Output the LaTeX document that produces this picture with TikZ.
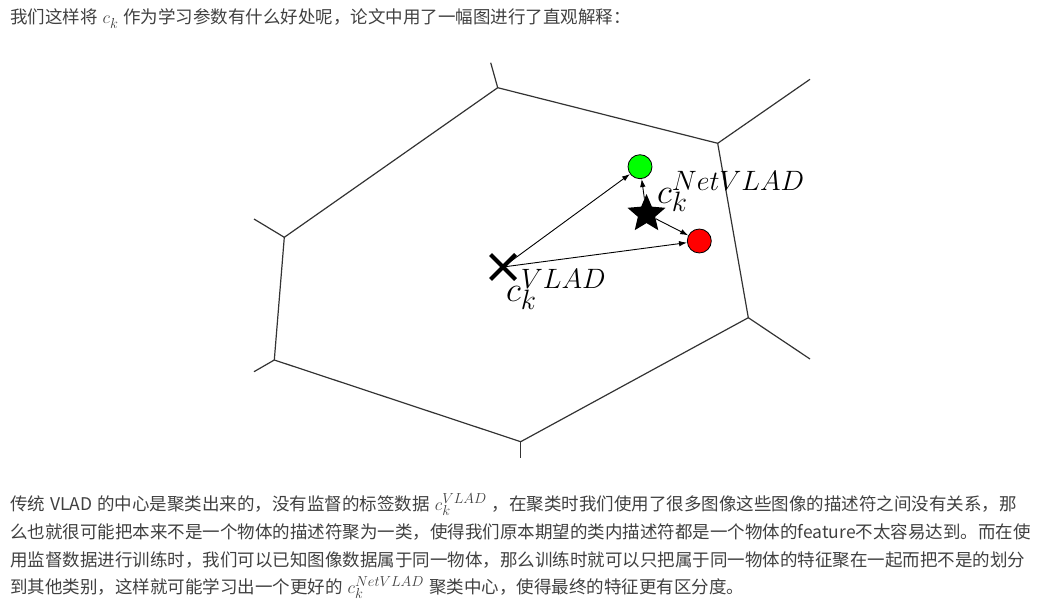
\RequirePackage{fix-cm}
\documentclass[tikz,border=0pt]{standalone}
\usepackage[no-math]{fontspec}
\newfontfamily\cjk{Noto Sans CJK SC}
\usetikzlibrary{arrows.meta,shapes.geometric,shapes.misc,positioning}
\XeTeXlinebreaklocale "zh"
\XeTeXlinebreakskip=0pt plus 1pt minus 0.5pt
\DeclareMathSizes{35}{35}{28}{20}
\DeclareMathSizes{17.5}{17.5}{14.5}{11}
\newcommand{\bodyfont}{\cjk\fontsize{17.5}{20}\selectfont\spaceskip=5pt\relax}
\tikzset{%
  cell/.style = {draw=black!80, line width=1.2pt},%
  vec/.style  = {draw=black, line width=0.9pt, -{Latex[length=8pt,width=5.5pt]}},%
  desc/.style = {circle, draw=black, line width=0.8pt,%
                 minimum size=24pt, inner sep=0pt},%
  lbl/.style  = {inner sep=0pt, anchor=base west,%
                 font=\fontsize{35}{40}\selectfont},%
  txt/.style  = {inner sep=0pt, anchor=base west, text=black!75, font=\bodyfont}%
}
\newcommand{\fullline}[1]{\makebox[1020pt][s]{#1}}

\begin{document}
\begin{tikzpicture}[x=1pt, y=-1pt]
	\useasboundingbox (0,0) rectangle (1041,607);
	% text above and below the figure
	\node[txt] (head) at (10,24) {我们这样将 $c_k$ 作为学习参数有什么好处呢，论文中用了一幅图进行了直观解释：};
	\node[txt] (line1) at (10,510) {\fullline{传统 VLAD 的中心是聚类出来的，没有监督的标签数据 $c_k^{VLAD}$ ，在聚类时我们使用了很多图像这些图像的描述符之间没有关系，那}};
	\node[txt] (line2) at (10,538) {\fullline{么也就很可能把本来不是一个物体的描述符聚为一类，使得我们原本期望的类内描述符都是一个物体的feature不太容易达到。而在使}};
	\node[txt] (line3) at (10,566) {\fullline{用监督数据进行训练时，我们可以已知图像数据属于同一物体，那么训练时就可以只把属于同一物体的特征聚在一起而把不是的划分}};
	\node[txt] (line4) at (10,593) {到其他类别，这样就可能学习出一个更好的 $c_k^{NetVLAD}$ 聚类中心，使得最终的特征更有区分度。};
	% the cell and its neighbours
	\coordinate (v1) at (497.7,87.7);
	\coordinate (v2) at (717.7,143.3);
	\coordinate (v3) at (748.3,317.7);
	\coordinate (v4) at (520.7,441.7);
	\coordinate (v5) at (274.3,360);
	\coordinate (v6) at (284.3,237.3);
	\coordinate (s1) at (490.7,62.7);
	\coordinate (s2) at (810,79.3);
	\coordinate (s3) at (810,359);
	\coordinate (s4) at (520.7,457.7);
	\coordinate (s5) at (254,371.7);
	\coordinate (s6) at (254,219);
	\draw[cell] (v1) -- (v2) -- (v3) -- (v4) -- (v5) -- (v6) -- cycle;
	\foreach \i in {1,...,6}
		\draw[cell] (v\i) -- (s\i);
	% centres and descriptors
	\node[cross out, draw=black, line width=4pt, minimum size=21pt,
		inner sep=0pt] (vlad) at (503,267) {};
	\node[star, star points=5, star point ratio=2.2, fill=black,
		minimum size=40pt, inner sep=0pt] (net) at (646.5,214) {};
	\node[desc, fill=green] (pos) at (640,166.7) {};
	\node[desc, fill=red] (neg) at (699.3,241) {};
	\draw[vec] (vlad.center) -- (pos);
	\draw[vec] (vlad.center) -- (neg);
	\draw[vec] (net) -- (pos);
	\draw[vec] (net) -- (neg);
	\node[lbl] (lblv) at (506,301) {$c_k^{VLAD}$};
	\node[lbl] (lbln) at (657,203) {$c_k^{NetVLAD}$};
\end{tikzpicture}
\end{document}
